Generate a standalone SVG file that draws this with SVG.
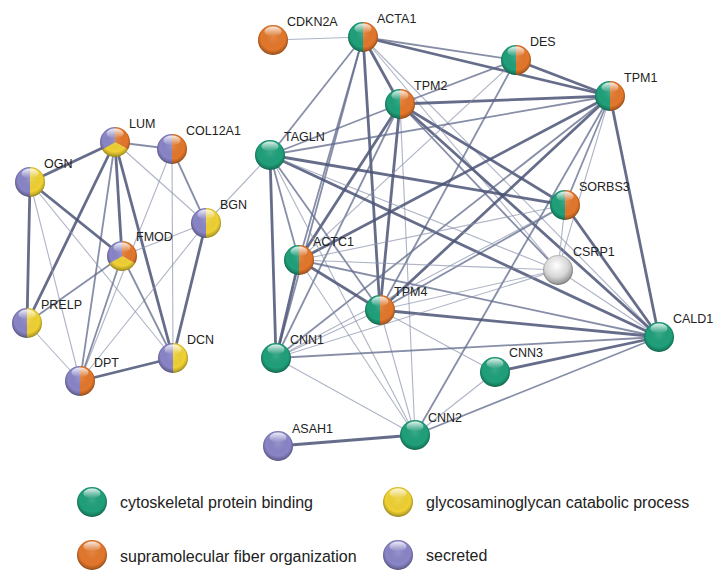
<svg xmlns="http://www.w3.org/2000/svg" xmlns:xlink="http://www.w3.org/1999/xlink" width="728" height="576" viewBox="0 0 728 576">
<style>
.a{stroke:#4b5375;stroke-width:2.8;stroke-opacity:0.85;fill:none}
.b{stroke:#5f6889;stroke-width:1.8;stroke-opacity:0.75;fill:none}
.c{stroke:#8c94ae;stroke-width:1.1;stroke-opacity:0.7;fill:none}
.g{fill:#1fa07a}.o{fill:#e3772b}.y{fill:#efd133}.p{fill:#8985c7}.w{fill:#cfcfcf}
text{font-family:"Liberation Sans",Arial,sans-serif;font-size:12.5px;fill:#222}
.lg{font-size:16px}
</style>
<defs>
<path id="L" d="M0,-15A15,15 0 0 0 0,15Z"/>
<path id="R" d="M0,-15A15,15 0 0 1 0,15Z"/>
<path id="S1" d="M0,0L0,-15A15,15 0 0 1 12.99,7.5Z"/>
<path id="S2" d="M0,0L12.99,7.5A15,15 0 0 1 -12.99,7.5Z"/>
<path id="S3" d="M0,0L-12.99,7.5A15,15 0 0 1 0,-15Z"/>
<radialGradient id="shade" cx="0.5" cy="0.42" r="0.58">
<stop offset="0" stop-color="#fff" stop-opacity="0.12"/>
<stop offset="0.7" stop-color="#000" stop-opacity="0"/>
<stop offset="1" stop-color="#000" stop-opacity="0.32"/>
</radialGradient>
<linearGradient id="hl" x1="0" y1="0" x2="0" y2="1">
<stop offset="0" stop-color="#fff" stop-opacity="0.85"/>
<stop offset="1" stop-color="#fff" stop-opacity="0"/>
</linearGradient>
<radialGradient id="greyball" cx="0.45" cy="0.35" r="0.65">
<stop offset="0" stop-color="#ffffff"/>
<stop offset="0.6" stop-color="#d6d6d6"/>
<stop offset="1" stop-color="#8a8a8a"/>
</radialGradient>
<g id="gloss">
<circle r="15" fill="url(#shade)"/>
<ellipse cy="-8.5" rx="8.5" ry="5" fill="url(#hl)"/>
<circle r="14.6" fill="none" stroke="#000" stroke-opacity="0.12" stroke-width="0.8"/>
</g>
</defs>
<rect width="728" height="576" fill="#fff"/>
<g id="edges">
<line class="a" x1="115" y1="142" x2="30" y2="182"/>
<line class="b" x1="115" y1="142" x2="172" y2="149"/>
<line class="a" x1="115" y1="142" x2="122" y2="256"/>
<line class="a" x1="115" y1="142" x2="27" y2="323"/>
<line class="b" x1="115" y1="142" x2="80" y2="381"/>
<line class="a" x1="115" y1="142" x2="173" y2="358"/>
<line class="c" x1="115" y1="142" x2="206" y2="223"/>
<line class="a" x1="30" y1="182" x2="122" y2="256"/>
<line class="a" x1="30" y1="182" x2="27" y2="323"/>
<line class="c" x1="30" y1="182" x2="80" y2="381"/>
<line class="c" x1="30" y1="182" x2="173" y2="358"/>
<line class="b" x1="172" y1="149" x2="206" y2="223"/>
<line class="c" x1="172" y1="149" x2="173" y2="358"/>
<line class="c" x1="172" y1="149" x2="80" y2="381"/>
<line class="c" x1="206" y1="223" x2="122" y2="256"/>
<line class="a" x1="206" y1="223" x2="173" y2="358"/>
<line class="c" x1="206" y1="223" x2="80" y2="381"/>
<line class="c" x1="206" y1="223" x2="270" y2="155"/>
<line class="b" x1="122" y1="256" x2="27" y2="323"/>
<line class="b" x1="122" y1="256" x2="80" y2="381"/>
<line class="b" x1="122" y1="256" x2="173" y2="358"/>
<line class="c" x1="27" y1="323" x2="80" y2="381"/>
<line class="a" x1="80" y1="381" x2="173" y2="358"/>

<line class="c" x1="273" y1="40" x2="363" y2="37"/>
<line class="a" x1="363" y1="37" x2="400" y2="104"/>
<line class="a" x1="363" y1="37" x2="610" y2="96"/>
<line class="b" x1="363" y1="37" x2="516" y2="60"/>
<line class="b" x1="363" y1="37" x2="270" y2="155"/>
<line class="b" x1="363" y1="37" x2="299" y2="260"/>
<line class="b" x1="363" y1="37" x2="276" y2="358"/>
<line class="a" x1="363" y1="37" x2="380" y2="310"/>
<line class="c" x1="363" y1="37" x2="659" y2="337"/>
<line class="c" x1="363" y1="37" x2="558" y2="270"/>
<line class="a" x1="400" y1="104" x2="610" y2="96"/>
<line class="b" x1="400" y1="104" x2="516" y2="60"/>
<line class="b" x1="400" y1="104" x2="270" y2="155"/>
<line class="a" x1="400" y1="104" x2="299" y2="260"/>
<line class="a" x1="400" y1="104" x2="380" y2="310"/>
<line class="b" x1="400" y1="104" x2="276" y2="358"/>
<line class="a" x1="400" y1="104" x2="565" y2="205"/>
<line class="a" x1="400" y1="104" x2="659" y2="337"/>
<line class="b" x1="400" y1="104" x2="558" y2="270"/>
<line class="c" x1="400" y1="104" x2="415" y2="435"/>
<line class="a" x1="516" y1="60" x2="610" y2="96"/>
<line class="b" x1="516" y1="60" x2="380" y2="310"/>
<line class="c" x1="516" y1="60" x2="299" y2="260"/>
<line class="b" x1="610" y1="96" x2="270" y2="155"/>
<line class="b" x1="610" y1="96" x2="565" y2="205"/>
<line class="a" x1="610" y1="96" x2="659" y2="337"/>
<line class="a" x1="610" y1="96" x2="380" y2="310"/>
<line class="a" x1="610" y1="96" x2="299" y2="260"/>
<line class="b" x1="610" y1="96" x2="276" y2="358"/>
<line class="c" x1="610" y1="96" x2="558" y2="270"/>
<line class="b" x1="610" y1="96" x2="415" y2="435"/>
<line class="a" x1="565" y1="205" x2="659" y2="337"/>
<line class="c" x1="565" y1="205" x2="558" y2="270"/>
<line class="b" x1="565" y1="205" x2="380" y2="310"/>
<line class="a" x1="270" y1="155" x2="565" y2="205"/>
<line class="a" x1="270" y1="155" x2="659" y2="337"/>
<line class="c" x1="270" y1="155" x2="558" y2="270"/>
<line class="b" x1="270" y1="155" x2="299" y2="260"/>
<line class="a" x1="270" y1="155" x2="276" y2="358"/>
<line class="b" x1="270" y1="155" x2="380" y2="310"/>
<line class="c" x1="270" y1="155" x2="415" y2="435"/>
<line class="a" x1="299" y1="260" x2="380" y2="310"/>
<line class="a" x1="299" y1="260" x2="276" y2="358"/>
<line class="b" x1="299" y1="260" x2="659" y2="337"/>
<line class="c" x1="299" y1="260" x2="558" y2="270"/>
<line class="c" x1="299" y1="260" x2="415" y2="435"/>
<line class="c" x1="299" y1="260" x2="565" y2="205"/>
<line class="a" x1="380" y1="310" x2="659" y2="337"/>
<line class="c" x1="380" y1="310" x2="276" y2="358"/>
<line class="c" x1="380" y1="310" x2="415" y2="435"/>
<line class="c" x1="380" y1="310" x2="558" y2="270"/>
<line class="c" x1="380" y1="310" x2="495" y2="372"/>
<line class="b" x1="276" y1="358" x2="659" y2="337"/>
<line class="c" x1="276" y1="358" x2="415" y2="435"/>
<line class="c" x1="276" y1="358" x2="558" y2="270"/>
<line class="c" x1="276" y1="358" x2="565" y2="205"/>
<line class="c" x1="558" y1="270" x2="659" y2="337"/>
<line class="a" x1="659" y1="337" x2="495" y2="372"/>
<line class="b" x1="659" y1="337" x2="415" y2="435"/>
<line class="c" x1="495" y1="372" x2="415" y2="435"/>
<line class="a" x1="415" y1="435" x2="278" y2="446"/>
</g>

<g id="n-LUM" transform="translate(115,142)"><use href="#S1" class="o"/><use href="#S2" class="y"/><use href="#S3" class="p"/><use href="#gloss"/><text x="14" y="-14">LUM</text></g>
<g id="n-COL12A1" transform="translate(172,149)"><use href="#L" class="p"/><use href="#R" class="o"/><use href="#gloss"/><text x="14" y="-14">COL12A1</text></g>
<g id="n-OGN" transform="translate(30,182)"><use href="#L" class="p"/><use href="#R" class="y"/><use href="#gloss"/><text x="14" y="-14">OGN</text></g>
<g id="n-BGN" transform="translate(206,223)"><use href="#L" class="p"/><use href="#R" class="y"/><use href="#gloss"/><text x="14" y="-14">BGN</text></g>
<g id="n-FMOD" transform="translate(122,256)"><use href="#S1" class="o"/><use href="#S2" class="y"/><use href="#S3" class="p"/><use href="#gloss"/><text x="14" y="-15">FMOD</text></g>
<g id="n-PRELP" transform="translate(27,323)"><use href="#L" class="p"/><use href="#R" class="y"/><use href="#gloss"/><text x="14" y="-14">PRELP</text></g>
<g id="n-DPT" transform="translate(80,381)"><use href="#L" class="p"/><use href="#R" class="o"/><use href="#gloss"/><text x="14" y="-14">DPT</text></g>
<g id="n-DCN" transform="translate(173,358)"><use href="#L" class="p"/><use href="#R" class="y"/><use href="#gloss"/><text x="14" y="-14">DCN</text></g>

<g id="n-CDKN2A" transform="translate(273,40)"><circle r="15" class="o"/><use href="#gloss"/><text x="14" y="-14">CDKN2A</text></g>
<g id="n-ACTA1" transform="translate(363,37)"><use href="#L" class="g"/><use href="#R" class="o"/><use href="#gloss"/><text x="14" y="-14">ACTA1</text></g>
<g id="n-TPM2" transform="translate(400,104)"><use href="#L" class="g"/><use href="#R" class="o"/><use href="#gloss"/><text x="14" y="-14">TPM2</text></g>
<g id="n-TAGLN" transform="translate(270,155)"><circle r="15" class="g"/><use href="#gloss"/><text x="14" y="-14">TAGLN</text></g>
<g id="n-DES" transform="translate(516,60)"><use href="#L" class="g"/><use href="#R" class="o"/><use href="#gloss"/><text x="14" y="-14">DES</text></g>
<g id="n-TPM1" transform="translate(610,96)"><use href="#L" class="g"/><use href="#R" class="o"/><use href="#gloss"/><text x="14" y="-14">TPM1</text></g>
<g id="n-SORBS3" transform="translate(565,205)"><use href="#L" class="g"/><use href="#R" class="o"/><use href="#gloss"/><text x="14" y="-14">SORBS3</text></g>
<g id="n-ACTC1" transform="translate(299,260)"><use href="#L" class="g"/><use href="#R" class="o"/><use href="#gloss"/><text x="14" y="-14">ACTC1</text></g>
<g id="n-TPM4" transform="translate(380,310)"><use href="#L" class="g"/><use href="#R" class="o"/><use href="#gloss"/><text x="14" y="-14">TPM4</text></g>
<g id="n-CNN1" transform="translate(276,358)"><circle r="15" class="g"/><use href="#gloss"/><text x="14" y="-14">CNN1</text></g>
<g id="n-CSRP1" transform="translate(558,270)"><circle r="15" fill="url(#greyball)"/><circle r="14.6" fill="none" stroke="#000" stroke-opacity="0.2" stroke-width="0.8"/><text x="15" y="-14">CSRP1</text></g>
<g id="n-CALD1" transform="translate(659,337)"><circle r="15" class="g"/><use href="#gloss"/><text x="14" y="-14">CALD1</text></g>
<g id="n-CNN3" transform="translate(495,372)"><circle r="15" class="g"/><use href="#gloss"/><text x="14" y="-15">CNN3</text></g>
<g id="n-CNN2" transform="translate(415,435)"><circle r="15" class="g"/><use href="#gloss"/><text x="13" y="-13">CNN2</text></g>
<g id="n-ASAH1" transform="translate(278,446)"><circle r="15" class="p"/><use href="#gloss"/><text x="14" y="-13">ASAH1</text></g>

<g id="legend">
<g transform="translate(92,502)"><circle r="15" class="g"/><use href="#gloss"/></g>
<text class="lg" x="120" y="508">cytoskeletal protein binding</text>
<g transform="translate(398,502)"><circle r="15" class="y"/><use href="#gloss"/></g>
<text class="lg" x="426" y="508">glycosaminoglycan catabolic process</text>
<g transform="translate(92,555)"><circle r="15" class="o"/><use href="#gloss"/></g>
<text class="lg" x="120" y="562">supramolecular fiber organization</text>
<g transform="translate(398,555)"><circle r="15" class="p"/><use href="#gloss"/></g>
<text class="lg" x="426" y="561">secreted</text>
</g>
</svg>
